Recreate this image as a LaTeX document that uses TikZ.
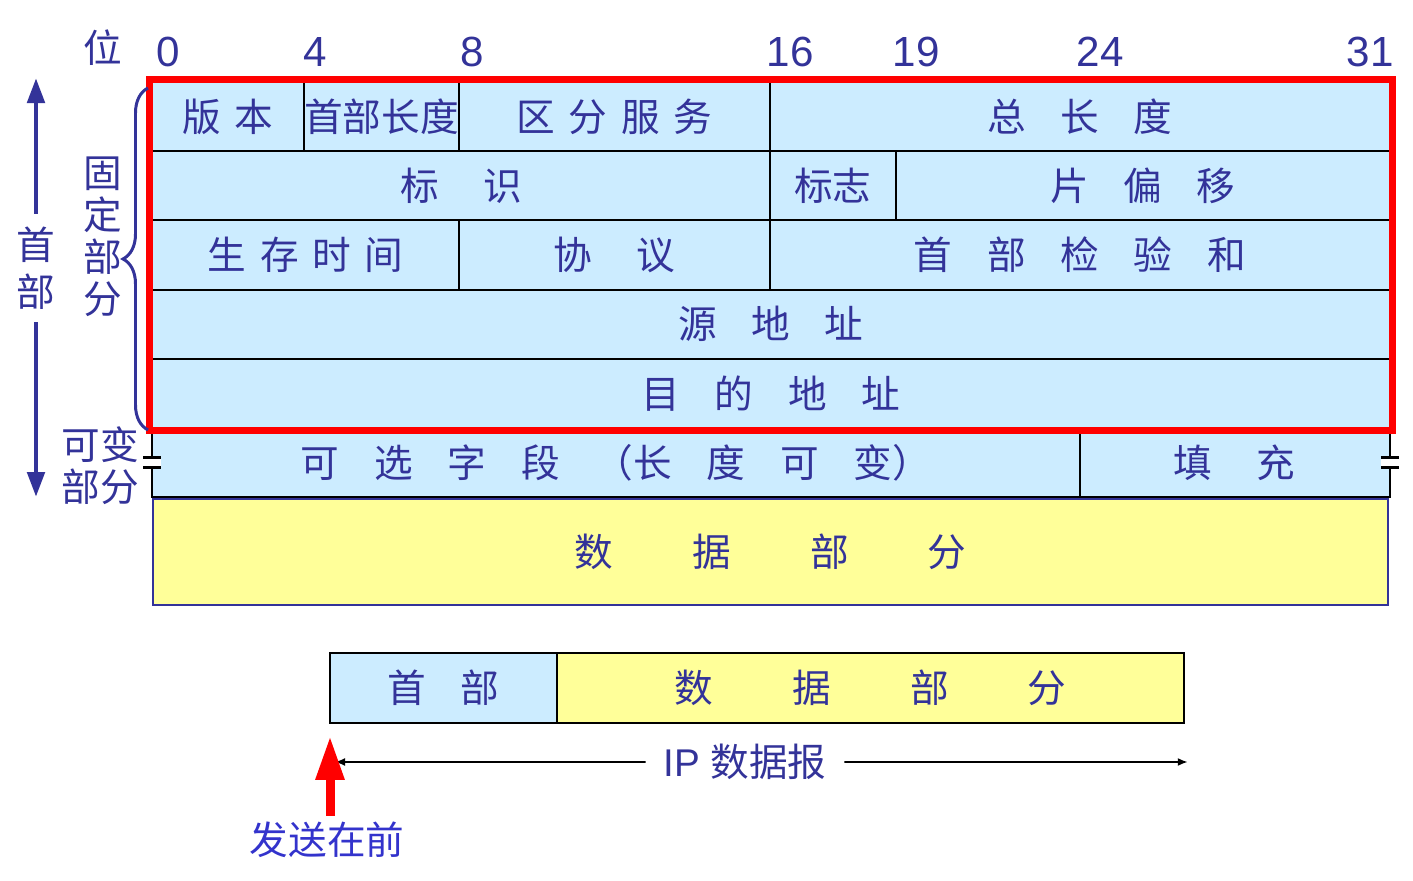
\documentclass[tikz,border=0pt]{standalone}
\usepackage{fontspec}
\setmainfont{Liberation Sans}
\newfontfamily\cjk{Noto Sans CJK SC}
\usepackage{tikz}
\usetikzlibrary{arrows.meta,positioning,calc,decorations.pathreplacing,fit}
\definecolor{ink}{RGB}{51,51,153}
\definecolor{brightink}{RGB}{51,51,204}
\definecolor{paleblue}{RGB}{204,236,255}
\definecolor{paleyellow}{RGB}{255,255,153}
\newcommand{\zh}{\cjk\fontsize{22}{26}\selectfont}
\newcommand{\gs}{\hspace{.35em}}
\newcommand{\gm}{\hspace{.9em}}
\newcommand{\gl}{\hspace{1.15em}}
\newcommand{\gx}{\hspace{2.05em}}

\begin{document}
\begin{tikzpicture}[
  x=0.02cm, y=-0.02cm,
  cell/.style={
    draw=black,
    line width=1.1pt,
    fill=paleblue,
    minimum height=1.384cm,
    inner sep=0pt,
    outer sep=0pt,
    text=ink,
    font=\zh
  },
  body/.style={cell,fill=paleyellow},
  bitno/.style={text=ink,font=\fontsize{24}{28}\selectfont,inner sep=0pt},
  side/.style={text=ink,align=center,font=\cjk\fontsize{22}{24}\selectfont},
  bigarrow/.style={draw=ink,line width=2.8pt,-{Triangle[length=0.5cm,width=0.34cm]}},
  span/.style={line width=1.1pt,-{Latex[length=0.2cm,width=0.16cm]}},
  tick/.style={line width=1.6pt}
]
\useasboundingbox (0,0) rectangle (1413,880);

\node[cell,minimum width=3.04cm,anchor=north west] (ver) at (152,82) {版\gs 本};
\node[cell,minimum width=3.10cm,right=0pt of ver] (ihl) {首部长度};
\node[cell,minimum width=6.22cm,right=0pt of ihl] (tos) {区\gs 分\gs 服\gs 务};
\node[cell,minimum width=12.40cm,right=0pt of tos] (len) {总\gm 长\gm 度};

\node[cell,minimum width=12.36cm,below=0pt of ver.south west,anchor=north west]
  (ident) {标\gl 识};
\node[cell,minimum width=2.52cm,right=0pt of ident] (flag) {标志};
\node[cell,minimum width=9.88cm,right=0pt of flag] (frag) {片\gm 偏\gm 移};

\node[cell,minimum width=6.14cm,below=0pt of ident.south west,anchor=north west]
  (ttl) {生\gs 存\gs 时\gs 间};
\node[cell,minimum width=6.22cm,right=0pt of ttl] (proto) {协\gl 议};
\node[cell,minimum width=12.40cm,right=0pt of proto]
  (csum) {首\gm 部\gm 检\gm 验\gm 和};

\node[cell,minimum width=24.76cm,below=0pt of ttl.south west,anchor=north west]
  (src) {源\gm 地\gm 址};
\node[cell,minimum width=24.76cm,below=0pt of src] (dst) {目\gm 的\gm 地\gm 址};

\node[cell,minimum width=18.56cm,below=0pt of dst.south west,anchor=north west]
  (opt) {可\gm 选\gm 字\gm 段\gm （长\gm 度\gm 可\gm 变）};
\node[cell,minimum width=6.20cm,right=0pt of opt] (pad) {填\gl 充};

\node[body,draw=ink,minimum width=24.70cm,minimum height=2.12cm,anchor=north west]
  (data) at (153,499) {数\gx 据\gx 部\gx 分};

\node[draw=red,line width=0.14cm,fit=(ver)(dst),inner sep=0.06cm] (fixed) {};

\foreach \p in {opt.west,pad.east}{
  \fill[white] ([shift={(-9,-5)}]\p) rectangle ([shift={(9,5)}]\p);
  \draw[tick] ([shift={(-9,-5)}]\p) -- ([shift={(9,-5)}]\p)
              ([shift={(-9,5)}]\p) -- ([shift={(9,5)}]\p);
}

\foreach \n/\x in {0/168,4/315,8/472,16/790,19/916,24/1100,31/1370}
  \node[bitno] (b\n) at (\x,52) {\n};
\node[side] (wei) at (103,48) {位};

\node[side,font=\cjk\fontsize{22}{27}\selectfont,inner sep=0.25cm]
  (hdr) at (36,268) {首\\部};
\coordinate (hdtop) at (36,78);
\coordinate (hdbot) at (36,497);
\draw[bigarrow] (hdr) -- (hdtop);
\draw[bigarrow] (hdr) -- (hdbot);

\node[side] (fixlbl) at (103,237) {固\\定\\部\\分};
\node[side] (varlbl) at (100,466) {可变\\部分};
\draw[ink,line width=1.7pt,decorate,decoration={brace,amplitude=0.5cm}]
  ([shift={(-4,2)}]dst.south west) -- ([shift={(-4,6)}]ver.north west);

\node[cell,minimum width=4.54cm,minimum height=1.40cm,anchor=north west]
  (dhead) at (330,653) {首\gm 部};
\node[body,minimum width=12.54cm,minimum height=1.40cm,right=0pt of dhead]
  (dbody) {数\gx 据\gx 部\gx 分};

\node[text=ink,inner sep=0.35cm,font=\fontsize{22}{26}\selectfont]
  (iplbl) at (745,762) {IP {\zh 数据报}};
\coordinate (ipl) at ([shift={(5,39)}]dhead.south west);
\coordinate (ipr) at ([shift={(4,39)}]dbody.south east);
\draw[span] (iplbl) -- (ipl);
\draw[span] (iplbl) -- (ipr);

\node[text=brightink,font=\zh] (send) at (327,840) {发送在前};
\coordinate (sendtip) at ([shift={(0,13)}]dhead.south west);
\draw[red,line width=0.18cm,-{Triangle[length=0.88cm,width=0.54cm]}]
  (send.north -| sendtip) -- (sendtip);
\end{tikzpicture}
\end{document}
